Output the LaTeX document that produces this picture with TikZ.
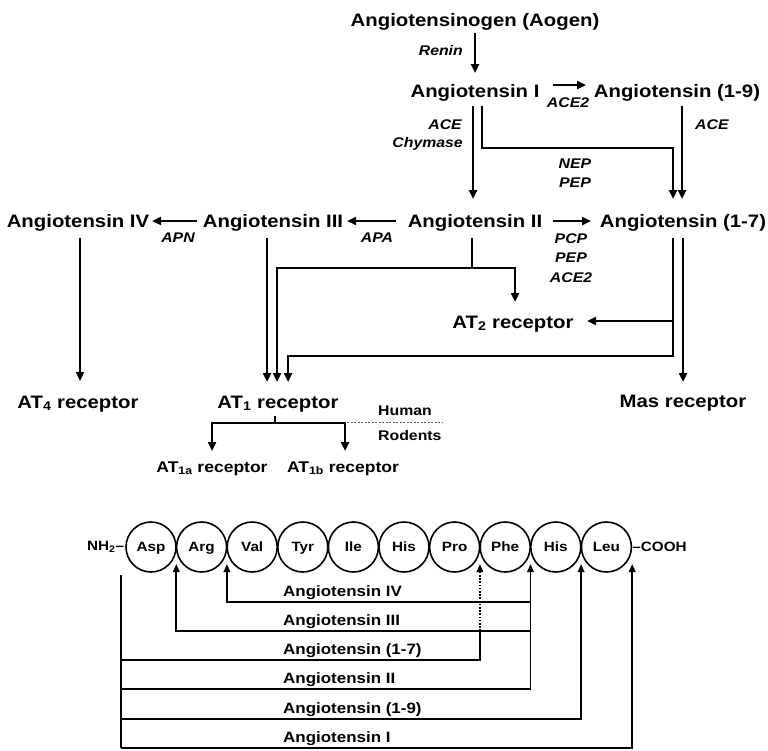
\documentclass[tikz,border=0pt]{standalone}
\usepackage{fontspec}
\setmainfont{Liberation Sans}[FakeStretch=1.13]
\usetikzlibrary{arrows.meta,calc}
\begin{document}
\begin{tikzpicture}[x=1pt,y=-1pt,
  lbl/.style={font=\fontsize{18}{20}\selectfont\bfseries,inner sep=0pt,anchor=base},
  enz/.style={font=\fontsize{14}{16}\selectfont\bfseries\itshape,inner sep=0pt,anchor=base},
  lblsub/.style={font=\fontsize{15.5}{17}\selectfont\bfseries,inner sep=0pt,anchor=base},
  lbltag/.style={font=\fontsize{14}{16}\selectfont\bfseries,inner sep=0pt,anchor=base west},
  lblpep/.style={font=\fontsize{15}{17}\selectfont\bfseries,inner sep=0pt,anchor=base west},
  res/.style={circle,draw,line width=1.6pt,minimum size=50pt,inner sep=0pt,
    font=\fontsize{13.5}{15}\selectfont\bfseries,text height=9.7pt,text depth=0pt},
  term/.style={font=\fontsize{13.5}{15}\selectfont\bfseries,inner sep=0pt},
  flow/.style={line width=2.6pt,-{Triangle[length=9pt,width=8pt]}},
  wire/.style={line width=2.6pt},
  seg/.style={line width=1.8pt},
  cut/.style={line width=1.8pt,-{Triangle[length=8pt,width=6.5pt]}},
]
\fill[white] (0,0) rectangle (768,750);
\useasboundingbox (0,0) rectangle (768,750);

% ---------- cascade ----------
\node[lbl] (aogen) at (475,26) {Angiotensinogen (Aogen)};
\node[lbl] (ang1)  at (475,97) {Angiotensin I};
\node[lbl] (ang19) at (677,97) {Angiotensin (1-9)};
\node[lbl] (ang2)  at (475,227) {Angiotensin II};
\node[lbl] (ang17) at (683,227) {Angiotensin (1-7)};
\node[lbl] (ang3)  at (273,227) {Angiotensin III};
\node[lbl] (ang4)  at (78,227) {Angiotensin IV};
\node[lbl] (at2)   at (513,328) {AT\textsubscript{2} receptor};
\node[lbl] (at4)   at (78,408) {AT\textsubscript{4} receptor};
\node[lbl] (at1)   at (278,408) {AT\textsubscript{1} receptor};
\node[lbl] (mas)   at (683,407) {Mas receptor};
\node[lblsub] (at1a) at (212,472) {AT\textsubscript{1a} receptor};
\node[lblsub] (at1b) at (343,472) {AT\textsubscript{1b} receptor};
\node[lbltag] (human)   at (378,415) {Human};
\node[lbltag] (rodents) at (378,440) {Rodents};

% enzymes
\node[enz,anchor=base east] (renin) at (463,55) {Renin};
\node[enz] (ace2a) at (568,107) {ACE2};
\node[enz,anchor=base east] (acea) at (462,129) {ACE};
\node[enz,anchor=base east] (chym) at (463,147) {Chymase};
\node[enz,anchor=base west] (aceb) at (695,129) {ACE};
\node[enz] (nep)  at (575,168) {NEP};
\node[enz] (pepa) at (575,187) {PEP};
\node[enz] (pcp)  at (571,243) {PCP};
\node[enz] (pepb) at (571,262) {PEP};
\node[enz] (ace2b) at (571,282) {ACE2};
\node[enz] (apa) at (377,242) {APA};
\node[enz] (apn) at (178,242) {APN};

% routing points
\coordinate (r0) at (475,33);   \coordinate (r1) at (475,73);
\coordinate (e0) at (553,85);   \coordinate (e1) at (586,85);
\coordinate (k0) at (473,106);  \coordinate (k1) at (473,199);
\coordinate (n0) at (482,106);  \coordinate (n1) at (673,148);  \coordinate (n2) at (673,199);
\coordinate (s0) at (682,106);  \coordinate (s1) at (682,199);
\coordinate (p0a) at (553,221); \coordinate (p0b) at (591,221);
\coordinate (a0) at (396,221);  \coordinate (a1) at (347,221);
\coordinate (m0) at (197,221);  \coordinate (m1) at (152,221);
\coordinate (v0) at (80,238);   \coordinate (v1) at (80,381);
\coordinate (t0) at (267,238);  \coordinate (t1) at (267,382);
\coordinate (b0) at (472,238);  \coordinate (b1) at (472,268);
\coordinate (b2) at (277,382);  \coordinate (b3) at (515,302);
\coordinate (h0) at (673,238);  \coordinate (h1) at (673,356);  \coordinate (h2) at (288,382);
\coordinate (q0) at (673,321);  \coordinate (q1) at (587,321);
\coordinate (g0) at (683,238);  \coordinate (g1) at (683,382);
\coordinate (f0) at (275,416);  \coordinate (f1) at (275,423);
\coordinate (f2) at (212,451);  \coordinate (f3) at (345,451);
\coordinate (d0) at (347,422);  \coordinate (d1) at (443,422);

\draw[flow] (r0) -- (r1);
\draw[flow] (e0) -- (e1);
\draw[flow] (k0) -- (k1);
\draw[flow] (n0) |- (n1) -- (n2);
\draw[flow] (s0) -- (s1);
\draw[flow] (p0a) -- (p0b);
\draw[flow] (a0) -- (a1);
\draw[flow] (m0) -- (m1);
\draw[flow] (v0) -- (v1);
\draw[flow] (t0) -- (t1);
\draw[wire] (b0) -- (b1);
\draw[flow] (b1) -| (b2);
\draw[flow] (b1) -| (b3);
\draw[flow] (h0) -- (h1) -| (h2);
\draw[flow] (q0) -- (q1);
\draw[flow] (g0) -- (g1);
\draw[wire] (f0) -- (f1);
\draw[flow] (f1) -| (f2);
\draw[flow] (f1) -| (f3);
\draw[gray!70!black,line width=0.8pt,dash pattern=on 2pt off 1.5pt] (d0) -- (d1);

% ---------- peptide chain ----------
\foreach \lab [count=\i from 0] in {Asp,Arg,Val,Tyr,Ile,His,Pro,Phe,His,Leu}
  \node[res] (aa\i) at ({151+50.6*\i},547) {\lab};
\node[term,anchor=east] (nh2) at ([xshift=-1pt]aa0.west) {NH\textsubscript{2}–};
\node[term,anchor=west] (cooh) at (aa9.east) {–COOH};

% cleavage points between residues
\coordinate (x01) at ($(aa0)!0.5!(aa1)$);
\coordinate (x12) at ($(aa1)!0.5!(aa2)$);
\coordinate (x67) at ($(aa6)!0.5!(aa7)$);
\coordinate (x78) at ($(aa7)!0.5!(aa8)$);
\coordinate (x89) at ($(aa8)!0.5!(aa9)$);
\coordinate (x9e) at (aa9.east);
\coordinate (tip) at (0,564);
\coordinate (lv0) at (121,575);
\coordinate (lv1) at (121,748);
\coordinate (yiv) at (0,602);
\coordinate (yiii) at (0,631);
\coordinate (y17) at (121,660);
\coordinate (yii) at (121,689);
\coordinate (y19) at (121,719);

\draw[seg] (lv0) -- (lv1);
\draw[cut] (x78 |- yii) -- (x78 |- tip);
\draw[cut] (x78 |- yiv) -| (x12 |- tip);
\draw[cut] (x78 |- yiii) -| (x01 |- tip);
\draw[seg] (y17) -| (x67 |- yiii);
\draw[line width=1.8pt,dash pattern=on 1.6pt off 1.6pt,-{Triangle[length=8pt,width=6.5pt]}]
  (x67 |- yiii) -- (x67 |- tip);
\draw[seg] (yii) -- (x78 |- yii);
\draw[cut] (y19) -| (x89 |- tip);
\draw[cut] (lv1) -| (x9e |- tip);

\node[lblpep] (piv)  at (283,596) {Angiotensin IV};
\node[lblpep] (piii) at (283,625) {Angiotensin III};
\node[lblpep] (p17)  at (283,654) {Angiotensin (1-7)};
\node[lblpep] (pii)  at (283,683) {Angiotensin II};
\node[lblpep] (p19)  at (283,713) {Angiotensin (1-9)};
\node[lblpep] (pi)   at (283,742) {Angiotensin I};
\end{tikzpicture}
\end{document}
